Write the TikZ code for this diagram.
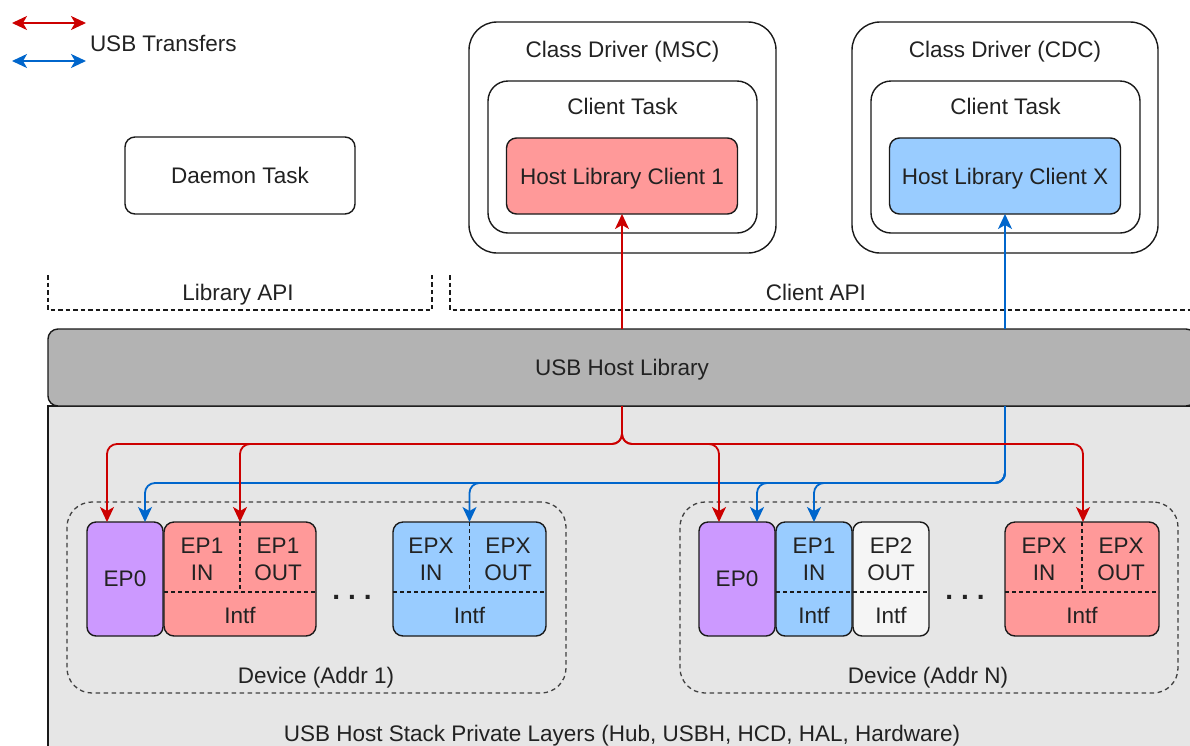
\documentclass[tikz,border=0pt]{standalone}
\usepackage{fontspec}
\setmainfont{Liberation Sans}
\usetikzlibrary{arrows.meta,calc}
\definecolor{cred}{HTML}{CC0000}
\definecolor{cblue}{HTML}{0066CC}
\definecolor{fred}{HTML}{FF9999}
\definecolor{fblue}{HTML}{99CCFF}
\definecolor{fpurple}{HTML}{CC99FF}
\definecolor{fgray}{HTML}{B3B3B3}
\definecolor{flight}{HTML}{E6E6E6}
\definecolor{fwhite}{HTML}{F5F5F5}
\definecolor{ctext}{HTML}{222222}
\definecolor{cline}{HTML}{1A1A1A}
\begin{document}
\begin{tikzpicture}[x=1pt,y=-1pt,
  every node/.style={font=\fontsize{22.5}{27}\selectfont, text=ctext, inner sep=0pt, outer sep=0pt, align=center, text depth=0pt},
  sz/.style 2 args={minimum width=#1pt, minimum height=#2pt},
  rbox/.style={draw=cline, line width=1.4pt, rounded corners=#1},
  devbox/.style={draw=black!75, line width=1.3pt, dash pattern=on 4.5pt off 3.5pt, rounded corners=25pt},
  apiline/.style={draw=cline, line width=1.2pt, dash pattern=on 4.5pt off 3pt},
  divider/.style={draw=cline, line width=1.1pt, dash pattern=on 4pt off 3pt},
  tip/.style={-{Stealth[length=15pt,width=14pt,inset=4pt]}},
  redarr/.style={draw=cred, line width=1.8pt, tip, rounded corners=10pt},
  bluearr/.style={draw=cblue, line width=1.8pt, tip, rounded corners=10pt},
  dots/.style={font=\fontsize{28}{30}\selectfont\bfseries}
]
\useasboundingbox (0,0) rectangle (1190,745);
\clip (0,0) rectangle (1190,745);
\fill[white] (0,0) rectangle (1190,745);

% legend
\coordinate (lr1) at (12,23); \coordinate (lr2) at (86,23);
\coordinate (lb1) at (12,61); \coordinate (lb2) at (86,61);
\draw[draw=cred, line width=1.8pt, {Stealth[length=15pt,width=14pt,inset=4pt]}-{Stealth[length=15pt,width=14pt,inset=4pt]}] (lr1) -- (lr2);
\draw[draw=cblue, line width=1.8pt, {Stealth[length=15pt,width=14pt,inset=4pt]}-{Stealth[length=15pt,width=14pt,inset=4pt]}] (lb1) -- (lb2);
\node[anchor=west] (legtext) at (90,43) {USB Transfers};

% daemon
\node[rbox=10pt, sz={230}{77}] (daemon) at (240,175.5) {Daemon Task};

% class drivers
\node[rbox=28pt, sz={307}{231}] (msc) at (622.5,137.5) {};
\node (msct) at (622.5,49) {Class Driver (MSC)};
\node[rbox=20pt, sz={269}{152}] (msctask) at (622.5,157) {};
\node (msctaskt) at (622.5,106) {Client Task};
\node[rbox=10pt, fill=fred, sz={231}{76}] (client1) at (622,176) {Host Library Client 1};

\node[rbox=28pt, sz={306}{231}] (cdc) at (1005,137.5) {};
\node (cdct) at (1005,49) {Class Driver (CDC)};
\node[rbox=20pt, sz={269}{152}] (cdctask) at (1005.5,157) {};
\node (cdctaskt) at (1005.5,106) {Client Task};
\node[rbox=10pt, fill=fblue, sz={231}{76}] (clientx) at (1005,176) {Host Library Client X};

% API brackets
\draw[apiline] (48,275) |- (432,310) -- (432,273);
\node (libapi) at (238,292) {Library API};
\draw[apiline] (450,275) |- (1200,310);
\node (cliapi) at (816,292) {Client API};

% private layers and host library
\node[draw=cline, line width=1.4pt, fill=flight, sz={1148}{354}] (priv) at (622,583) {};
\node (privt) at (622,733) {USB Host Stack Private Layers (Hub, USBH, HCD, HAL, Hardware)};
\node[rbox=10pt, fill=fgray, sz={1148}{77}] (hostlib) at (622,367.5) {USB Host Library};

% device 1
\node[devbox, sz={499}{191}] (dev1) at (316.5,597.5) {};
\node (dev1t) at (316,675) {Device (Addr 1)};
\node[rbox=9pt, fill=fpurple, sz={76}{114}] (d1ep0) at (125,579) {EP0};
\node[rbox=10pt, fill=fred, sz={152}{114}] (d1if1) at (240,579) {};
\draw[divider] ($(d1if1.north west)+(0,70)$) -- ($(d1if1.north east)+(0,70)$);
\draw[divider] (d1if1.north) -- ($(d1if1.north)+(0,70)$);
\node (d1if1a) at (202,559) {EP1\\IN};
\node (d1if1b) at (278,559) {EP1\\OUT};
\node (d1if1c) at (240,615) {Intf};
\node[dots] (d1dots) at (352,597) {.\hspace{8pt}.\hspace{8pt}.};
\node[rbox=10pt, fill=fblue, sz={153}{114}] (d1ifx) at (469.5,579) {};
\draw[divider] ($(d1ifx.north west)+(0,70)$) -- ($(d1ifx.north east)+(0,70)$);
\draw[divider] (d1ifx.north) -- ($(d1ifx.north)+(0,70)$);
\node (d1ifxa) at (431,559) {EPX\\IN};
\node (d1ifxb) at (508,559) {EPX\\OUT};
\node (d1ifxc) at (469.5,615) {Intf};

% device N
\node[devbox, sz={498}{191}] (devn) at (929,597.5) {};
\node (devnt) at (928,675) {Device (Addr N)};
\node[rbox=9pt, fill=fpurple, sz={76}{114}] (dnep0) at (737,579) {EP0};
\node[rbox=9pt, fill=fblue, sz={76}{114}] (dnep1) at (814,579) {};
\draw[divider] ($(dnep1.north west)+(0,70)$) -- ($(dnep1.north east)+(0,70)$);
\node (dnep1a) at (814,559) {EP1\\IN};
\node (dnep1b) at (814,615) {Intf};
\node[rbox=9pt, fill=fwhite, sz={76}{114}] (dnep2) at (891,579) {};
\draw[divider] ($(dnep2.north west)+(0,70)$) -- ($(dnep2.north east)+(0,70)$);
\node (dnep2a) at (891,559) {EP2\\OUT};
\node (dnep2b) at (891,615) {Intf};
\node[dots] (dndots) at (965,597) {.\hspace{8pt}.\hspace{8pt}.};
\node[rbox=10pt, fill=fred, sz={154}{114}] (dnifx) at (1082,579) {};
\draw[divider] ($(dnifx.north west)+(0,70)$) -- ($(dnifx.north east)+(0,70)$);
\draw[divider] (dnifx.north) -- ($(dnifx.north)+(0,70)$);
\node (dnifxa) at (1044,559) {EPX\\IN};
\node (dnifxb) at (1121,559) {EPX\\OUT};
\node (dnifxc) at (1082,615) {Intf};

% connectors up to clients
\draw[redarr] (hostlib.north -| client1.south) -- (client1.south);
\draw[bluearr] (hostlib.north -| clientx.south) -- (clientx.south);

% buses
\coordinate (rbus) at (0,444);
\coordinate (bbus) at (0,483);
\coordinate (bsrc) at (hostlib.south -| clientx.south);

\draw[bluearr] (bsrc) |- ([xshift=20pt]d1ep0.north |- bbus) -- ([xshift=20pt]d1ep0.north);
\draw[bluearr] (bsrc) |- (d1ifx.north |- bbus) -- (d1ifx.north);
\draw[bluearr] (bsrc) |- ([xshift=20pt]dnep0.north |- bbus) -- ([xshift=20pt]dnep0.north);
\draw[bluearr] (bsrc) |- (dnep1.north |- bbus) -- (dnep1.north);

\draw[redarr] (hostlib.south) |- ([xshift=-18pt]d1ep0.north |- rbus) -- ([xshift=-18pt]d1ep0.north);
\draw[redarr] (hostlib.south) |- (d1if1.north |- rbus) -- (d1if1.north);
\draw[redarr] (hostlib.south) |- ([xshift=-18pt]dnep0.north |- rbus) -- ([xshift=-18pt]dnep0.north);
\draw[redarr] (hostlib.south) |- ([xshift=1pt]dnifx.north |- rbus) -- ([xshift=1pt]dnifx.north);
\end{tikzpicture}
\end{document}
